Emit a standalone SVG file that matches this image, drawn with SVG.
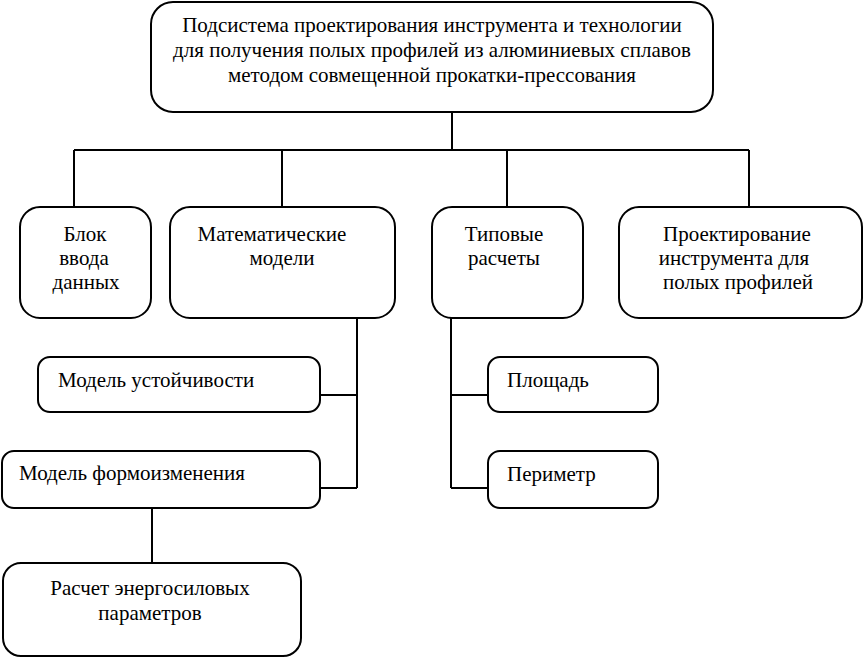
<svg xmlns="http://www.w3.org/2000/svg" width="864" height="658" viewBox="0 0 864 658">
<style>
.box{fill:#fff;stroke:#000;stroke-width:2}
.t{font-family:"Liberation Serif","DejaVu Serif",serif;font-size:21px;fill:#000}
.c{text-anchor:middle}
.ln{stroke:#000;stroke-width:2;fill:none}
</style>
<rect width="864" height="658" fill="#fff"/>
<g id="connectors">
<path class="ln" d="M452,112V150M74,150H749M74,150V207M282,150V207M507,150V207M749,150V207"/>
<path class="ln" d="M357,318V488M320,395H357M320,488H357"/>
<path class="ln" d="M451,318V488M451,395H488M451,488H488"/>
<path class="ln" d="M152,508V563"/>
</g>
<g id="root">
<rect class="box" x="151" y="2" width="562" height="110" rx="22"/>
<text class="t c" x="432" y="32">Подсистема проектирования инструмента и технологии</text>
<text class="t c" x="432" y="57">для получения полых профилей из алюминиевых сплавов</text>
<text class="t c" x="432" y="82">методом совмещенной прокатки-прессования</text>
</g>
<g id="input">
<rect class="box" x="20" y="207" width="131" height="111" rx="20"/>
<text class="t c" x="85" y="241">Блок</text>
<text class="t c" x="84" y="265">ввода</text>
<text class="t c" x="86" y="289">данных</text>
</g>
<g id="math">
<rect class="box" x="170" y="207" width="225" height="111" rx="20"/>
<text class="t c" x="272" y="241">Математические</text>
<text class="t c" x="282" y="265">модели</text>
</g>
<g id="typical">
<rect class="box" x="432" y="207" width="151" height="111" rx="20"/>
<text class="t c" x="504" y="241">Типовые</text>
<text class="t c" x="504" y="265">расчеты</text>
</g>
<g id="design">
<rect class="box" x="619" y="207" width="243" height="111" rx="20"/>
<text class="t c" x="737" y="241">Проектирование</text>
<text class="t c" x="734" y="265">инструмента для</text>
<text class="t c" x="738" y="289">полых профилей</text>
</g>
<g id="stability">
<rect class="box" x="38" y="357" width="282" height="55" rx="12"/>
<text class="t" x="58" y="387">Модель устойчивости</text>
</g>
<g id="shape">
<rect class="box" x="2" y="451" width="318" height="57" rx="12"/>
<text class="t" x="19" y="480">Модель формоизменения</text>
</g>
<g id="energy">
<rect class="box" x="3" y="563" width="298" height="93" rx="18"/>
<text class="t c" x="150" y="595">Расчет энергосиловых</text>
<text class="t c" x="150" y="620">параметров</text>
</g>
<g id="area">
<rect class="box" x="488" y="357" width="170" height="55" rx="12"/>
<text class="t" x="507" y="387">Площадь</text>
</g>
<g id="perimeter">
<rect class="box" x="488" y="451" width="170" height="57" rx="12"/>
<text class="t" x="507" y="481">Периметр</text>
</g>
</svg>
